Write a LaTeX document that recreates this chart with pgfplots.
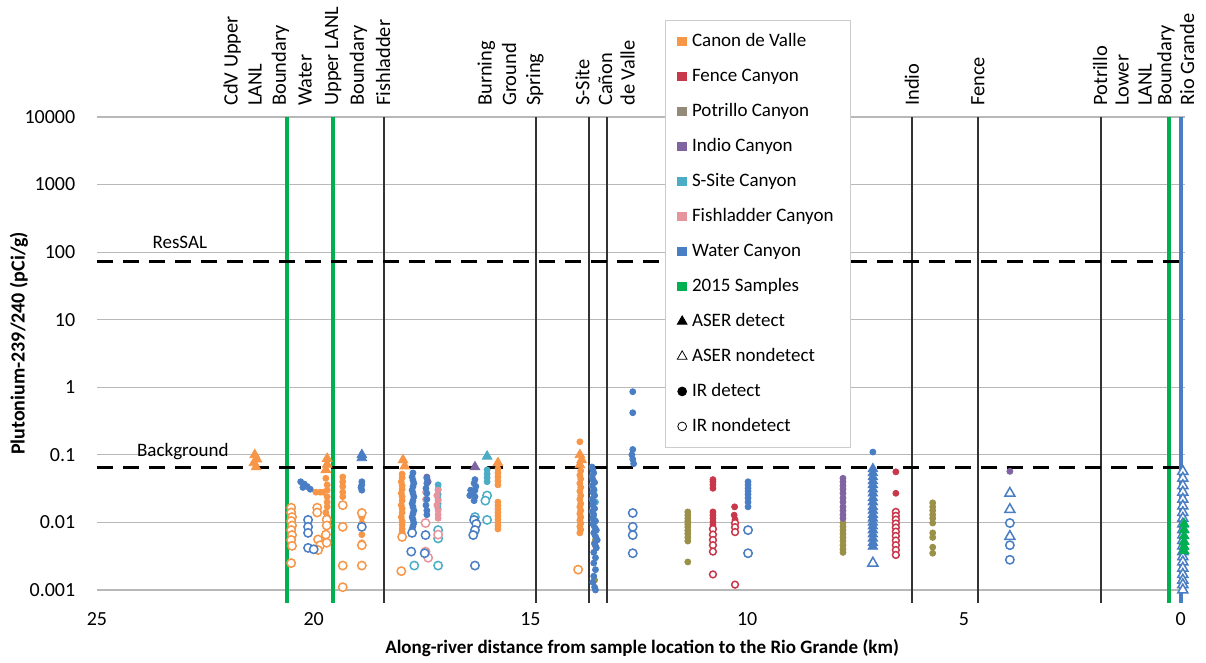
\documentclass[border=0pt]{standalone}
\usepackage{fontspec}
\setmainfont{Carlito}
\usepackage{pgfplots}
\pgfplotsset{compat=1.18}
\definecolor{cOr}{HTML}{F79646}
\definecolor{cRd}{HTML}{C8374A}
\definecolor{cOl}{HTML}{9A9048}
\definecolor{cOlL}{HTML}{948A7A}
\definecolor{cPu}{HTML}{8064A2}
\definecolor{cCy}{HTML}{4BACC6}
\definecolor{cPk}{HTML}{E8949E}
\definecolor{cBl}{HTML}{4A7EC4}
\definecolor{cGr}{HTML}{00B050}
\pgfplotsset{
 det/.style={only marks, mark=*, mark size=1.5pt, forget plot},
 nd/.style={only marks, mark=*, mark size=2.1pt, line width=0.75pt, forget plot, mark options={fill=white}},
 ad/.style={only marks, mark=triangle*, mark size=2.8pt, forget plot},
 an/.style={only marks, mark=triangle*, mark size=2.9pt, line width=0.75pt, forget plot, mark options={fill=white}},
 vblk/.style={black!80, line width=1pt, forget plot},
 vgr/.style={cGr, line width=2pt, forget plot},
}
\tikzset{toplab/.style={rotate=90, anchor=west, inner sep=0pt, font=\fontsize{10.2}{12}\selectfont}}
\begin{document}
\fontsize{9.5}{11.5}\selectfont
\begin{tikzpicture}
\path[use as bounding box] (-48.5pt,-36.5pt) rectangle (554.5pt,295pt);
\begin{axis}[
 scale only axis, width=544pt, height=236.5pt,
 ymode=log, x dir=reverse,
 xmin=-0.1, xmax=25, ymin=0.001, ymax=10000,
 clip=false,
 axis line style={draw=none},
 xtick={25,20,15,10,5,0}, xticklabels={25,20,15,10,5,0},
 ytick={0.001,0.01,0.1,1,10,100,1000,10000},
 yticklabels={0.001,0.01,0.1,1,10,100,1000,10000},
 xtick style={draw=none}, ytick style={draw=none},
 ticklabel style={font=\fontsize{10}{12}\selectfont},
 yticklabel style={xshift=-7.5pt},
 xticklabel style={yshift=-8pt},
 ymajorgrids, major grid style={black!28, line width=0.6pt},
 xlabel={\bfseries Along-river distance from sample location to the Rio Grande (km)},
 ylabel={\bfseries Plutonium-239/240 (pCi/g)},
 xlabel style={at={(axis description cs:0.501,-0.1226)}, anchor=center},
 ylabel style={at={(axis description cs:-0.0717,0.521)}, anchor=center, font=\fontsize{10}{12}\selectfont},
 legend cell align=left,
 legend style={at={(0.522,1.205)}, anchor=north west, draw=black!20, fill=white,
   inner xsep=6pt, inner ysep=6pt, row sep=8.5pt,
   nodes={inner xsep=2.5pt, inner ysep=0pt, text height=7pt, text depth=2pt}},
 legend image code/.code={\draw[#1] plot coordinates {(0pt,0pt)};},
]
% vertical reference lines
\addplot[vgr] coordinates {(20.61,0.00064) (20.61,10000)};
\addplot[vgr] coordinates {(19.55,0.00064) (19.55,10000)};
\addplot[vblk] coordinates {(18.39,0.00064) (18.39,10000)};
\addplot[vblk] coordinates {(14.88,0.00064) (14.88,10000)};
\addplot[vblk] coordinates {(13.66,0.00064) (13.66,10000)};
\addplot[vblk] coordinates {(13.24,0.00064) (13.24,10000)};
\addplot[vblk] coordinates {(6.20,0.00064) (6.20,10000)};
\addplot[vblk] coordinates {(4.68,0.00064) (4.68,10000)};
\addplot[vblk] coordinates {(1.84,0.00064) (1.84,10000)};
\addplot[vgr] coordinates {(0.27,0.00064) (0.27,10000)};
\addplot[cBl, line width=2pt, forget plot] coordinates {(0.0,0.00064) (0.0,10000)};
% dashed levels
\addplot[black, line width=1.5pt, dash pattern=on 8pt off 5pt, forget plot] coordinates {(25,72) (0,72)};
\addplot[black, line width=1.5pt, dash pattern=on 8pt off 5pt, forget plot] coordinates {(25,0.066) (0,0.066)};
% ---- Canon de Valle (orange)
\addplot[ad, color=cOr] coordinates {(21.36,0.100) (21.31,0.086) (21.38,0.076) (21.33,0.066) (19.69,0.088) (19.69,0.072) (19.72,0.060) (17.94,0.084) (17.90,0.068) (15.75,0.076) (13.86,0.100) (13.82,0.084) (13.86,0.071)};
\addplot[det, color=cOr] coordinates {(19.95,0.028) (19.85,0.028) (19.78,0.028) (19.72,0.045) (19.69,0.036) (19.69,0.030) (19.69,0.024) (19.69,0.020) (19.69,0.017) (19.72,0.014) (19.69,0.012)
 (19.33,0.047) (19.33,0.040) (19.33,0.034) (19.33,0.028) (19.33,0.024)
 (18.89,0.012) (18.89,0.0098) (18.89,0.0066) (18.89,0.0050)
 (17.96,0.052) (17.96,0.046) (17.98,0.040) (17.96,0.035) (17.96,0.031) (17.98,0.027) (17.96,0.024) (17.96,0.021) (17.98,0.018) (17.96,0.016) (17.96,0.014) (17.98,0.012) (17.96,0.0105) (17.96,0.0092) (17.96,0.0080) (17.96,0.0072)
 (15.75,0.062) (15.75,0.054) (15.75,0.047) (15.75,0.041) (15.75,0.036) (15.75,0.020) (15.75,0.0178) (15.75,0.0158) (15.75,0.0140) (15.75,0.0125) (15.75,0.0112) (15.75,0.0100) (15.75,0.0090) (15.75,0.0080)
 (13.86,0.156) (13.84,0.058) (13.86,0.050) (13.84,0.044) (13.86,0.038) (13.84,0.033) (13.86,0.029) (13.84,0.025) (13.86,0.022) (13.84,0.019) (13.86,0.017) (13.84,0.015) (13.86,0.0135) (13.84,0.012) (13.86,0.0108) (13.84,0.0097) (13.86,0.0087) (13.84,0.0078) (13.86,0.0070)};
\addplot[nd, color=cOr] coordinates {(20.52,0.0165) (20.52,0.0140) (20.50,0.0120) (20.52,0.0105) (20.50,0.0090) (20.52,0.0077) (20.50,0.0065) (20.52,0.0055) (20.50,0.0045) (20.52,0.0025)
 (19.92,0.0165) (19.92,0.0140) (19.90,0.0056) (19.85,0.0046) (19.90,0.0039)
 (19.70,0.0110) (19.70,0.0090) (19.72,0.0066) (19.70,0.0050)
 (19.33,0.0180) (19.33,0.0086) (19.33,0.0023) (19.33,0.0011)
 (18.89,0.0138) (18.89,0.0046) (18.89,0.0023)
 (17.96,0.0061) (17.98,0.0019) (13.90,0.0020)};
% ---- Fence (red)
\addplot[det, color=cRd] coordinates {(10.79,0.043) (10.79,0.040) (10.79,0.036) (10.79,0.032) (10.79,0.0143) (10.79,0.0128) (10.79,0.0115) (10.79,0.0102) (10.79,0.0092) (10.29,0.017) (10.30,0.0128) (10.28,0.0110) (6.57,0.056) (6.57,0.027)};
\addplot[nd, color=cRd, mark size=1.7pt] coordinates {(10.79,0.0080) (10.79,0.0066) (10.79,0.0055) (10.79,0.0046) (10.79,0.0037) (10.79,0.0017) (10.28,0.0098) (10.28,0.0085) (10.28,0.0072) (10.28,0.0012)
 (6.57,0.0143) (6.57,0.0125) (6.57,0.0110) (6.57,0.0096) (6.57,0.0084) (6.57,0.0073) (6.57,0.0063) (6.57,0.0054) (6.57,0.0046) (6.57,0.0039) (6.57,0.0033)};
% ---- Potrillo (olive)
\addplot[det, color=cOl] coordinates {(13.50,0.0055) (13.52,0.0050) (13.50,0.0045) (13.52,0.0014)
 (11.37,0.0143) (11.37,0.0128) (11.37,0.0115) (11.37,0.0104) (11.37,0.0094) (11.37,0.0085) (11.37,0.0076) (11.37,0.0068) (11.37,0.0060) (11.37,0.0053) (11.37,0.0026)
 (7.79,0.0098) (7.79,0.0087) (7.79,0.0077) (7.79,0.0068) (7.79,0.0060) (7.79,0.0053) (7.79,0.0046) (7.79,0.0040) (7.79,0.0036)
 (5.72,0.0195) (5.72,0.0170) (5.72,0.0150) (5.72,0.0130) (5.72,0.0115) (5.72,0.0098) (5.72,0.0070) (5.72,0.0060) (5.72,0.0043) (5.72,0.0035)};
% ---- Indio (purple)
\addplot[det, color=cPu] coordinates {(7.79,0.045) (7.79,0.040) (7.79,0.035) (7.79,0.031) (7.79,0.027) (7.79,0.023) (7.79,0.020) (7.79,0.017) (7.79,0.015) (7.79,0.013) (7.79,0.0115) (3.94,0.057) (17.39,0.047) (17.36,0.040)};
\addplot[ad, color=cPu] coordinates {(16.28,0.066)};
% ---- S-Site (cyan)
\addplot[det, color=cCy] coordinates {(17.13,0.036) (17.13,0.031) (17.13,0.026) (17.13,0.022) (17.13,0.019) (17.13,0.016) (16.00,0.060) (16.00,0.052) (16.00,0.046) (16.00,0.040) (13.53,0.030) (13.50,0.020) (13.55,0.012)};
\addplot[ad, color=cCy] coordinates {(16.00,0.095)};
\addplot[nd, color=cCy] coordinates {(17.68,0.0023) (17.13,0.0077) (17.13,0.0058) (17.13,0.0023) (16.00,0.025) (16.04,0.021) (16.00,0.0109) (16.28,0.0120)};
% ---- Fishladder (pink)
\addplot[det, color=cPk] coordinates {(17.13,0.030) (17.16,0.025) (17.13,0.021) (17.16,0.018) (17.13,0.015) (17.13,0.013) (17.13,0.0115) (17.42,0.028) (17.42,0.022)};
\addplot[nd, color=cPk] coordinates {(17.42,0.0098) (17.42,0.0037) (17.36,0.0030) (17.13,0.0066)};
% ---- Water (blue)
\addplot[det, color=cBl] coordinates {(20.30,0.040) (20.22,0.037) (20.15,0.034) (20.08,0.031) (20.25,0.033)
 (18.89,0.040) (18.89,0.036) (18.91,0.033) (18.89,0.030)
 (17.71,0.054) (17.73,0.047) (17.71,0.042) (17.69,0.038) (17.71,0.034) (17.73,0.030) (17.71,0.027) (17.69,0.024) (17.71,0.021) (17.73,0.019) (17.71,0.017) (17.69,0.015) (17.71,0.0135) (17.73,0.012) (17.71,0.011) (17.69,0.0098) (17.71,0.0088) (17.73,0.0080)
 (17.39,0.045) (17.39,0.038) (17.41,0.032) (17.39,0.027) (17.39,0.022) (17.41,0.018) (17.39,0.015) (17.39,0.013)
 (16.28,0.043) (16.30,0.038) (16.26,0.034) (16.28,0.030) (16.32,0.027) (16.28,0.024) (16.30,0.021) (16.40,0.025) (16.38,0.030)
 (13.58,0.066) (13.56,0.060) (13.54,0.054) (13.58,0.048) (13.56,0.043) (13.52,0.039) (13.58,0.035) (13.54,0.031) (13.56,0.028) (13.52,0.025) (13.58,0.022) (13.54,0.020) (13.56,0.018) (13.52,0.016) (13.58,0.0145) (13.54,0.013) (13.56,0.0115) (13.50,0.0105) (13.56,0.0095) (13.52,0.0085) (13.48,0.0077) (13.54,0.0070) (13.50,0.0062) (13.46,0.0055) (13.52,0.0048) (13.48,0.0042) (13.54,0.0036) (13.50,0.0030) (13.54,0.0025) (13.50,0.0020) (13.54,0.0016) (13.56,0.0013) (13.52,0.0011) (13.50,0.0010)
 (12.64,0.86) (12.64,0.42) (12.64,0.120) (12.66,0.100) (12.64,0.086) (12.62,0.074)
 (9.98,0.040) (9.98,0.036) (9.98,0.032) (9.98,0.029) (9.98,0.026) (9.98,0.023) (9.98,0.020) (9.98,0.017)
 (7.10,0.11) (-0.05,0.025) (-0.05,0.012) (-0.05,0.008)};
\addplot[ad, color=cBl] coordinates {(18.89,0.100) (18.89,0.090)
 (7.10,0.062) (7.10,0.054) (7.10,0.047) (7.10,0.041) (7.10,0.036) (7.10,0.031) (7.10,0.027) (7.10,0.023) (7.10,0.020) (7.10,0.017) (7.10,0.015) (7.10,0.013) (7.10,0.0115) (7.10,0.0100) (7.10,0.0088) (7.10,0.0077) (7.10,0.0067) (7.10,0.0058) (7.10,0.0050) (7.10,0.0044)};
\addplot[an, color=cBl] coordinates {(7.10,0.0025) (3.94,0.027) (3.94,0.0155) (3.94,0.0062)
 (-0.05,0.057) (-0.05,0.045) (-0.05,0.035) (-0.05,0.028) (-0.05,0.022) (-0.05,0.0175) (-0.05,0.014) (-0.05,0.0115) (-0.05,0.0095) (-0.05,0.0078) (-0.05,0.0065) (-0.05,0.0054) (-0.05,0.0045) (-0.05,0.0037) (-0.05,0.0031) (-0.05,0.0026) (-0.05,0.0021) (-0.05,0.0017) (-0.05,0.0014) (-0.05,0.0012) (-0.05,0.0010)};
\addplot[nd, color=cBl] coordinates {(20.13,0.0109) (20.13,0.0086) (20.13,0.0070) (20.13,0.0042) (20.00,0.0040) (18.89,0.0086) (17.73,0.0070) (17.75,0.0037) (17.42,0.0065) (17.44,0.0035) (16.30,0.0109) (16.25,0.0095) (16.28,0.0077) (16.32,0.0065) (16.28,0.0023) (12.64,0.0138) (12.64,0.0086) (12.64,0.0065) (12.64,0.0035) (9.98,0.0077) (9.98,0.0035) (3.94,0.0098) (3.94,0.0046) (3.94,0.0028)};
% ---- 2015 samples (green)
\addplot[ad, color=cGr] coordinates {(-0.08,0.0095) (-0.08,0.0078) (-0.08,0.0063) (-0.08,0.0052) (-0.08,0.0044) (-0.08,0.0038)};
% ---- legend entries
\addlegendimage{only marks, mark=square*, mark size=2.2pt, color=cOr}\addlegendentry{Canon de Valle}
\addlegendimage{only marks, mark=square*, mark size=2.2pt, color=cRd}\addlegendentry{Fence Canyon}
\addlegendimage{only marks, mark=square*, mark size=2.2pt, color=cOlL}\addlegendentry{Potrillo Canyon}
\addlegendimage{only marks, mark=square*, mark size=2.2pt, color=cPu}\addlegendentry{Indio Canyon}
\addlegendimage{only marks, mark=square*, mark size=2.2pt, color=cCy}\addlegendentry{S-Site Canyon}
\addlegendimage{only marks, mark=square*, mark size=2.2pt, color=cPk}\addlegendentry{Fishladder Canyon}
\addlegendimage{only marks, mark=square*, mark size=2.2pt, color=cBl}\addlegendentry{Water Canyon}
\addlegendimage{only marks, mark=square*, mark size=2.2pt, color=cGr}\addlegendentry{2015 Samples}
\addlegendimage{only marks, mark=triangle*, mark size=2.8pt, color=black}\addlegendentry{ASER detect}
\addlegendimage{only marks, mark=triangle, mark size=2.8pt, color=black}\addlegendentry{ASER nondetect}
\addlegendimage{only marks, mark=*, mark size=2.2pt, color=black}\addlegendentry{IR detect}
\addlegendimage{only marks, mark=o, mark size=2.2pt, color=black}\addlegendentry{IR nondetect}
% ---- text labels
\node[anchor=center] at (axis cs:23.09,138) {ResSAL};
\node[anchor=center] at (axis cs:23.02,0.111) {Background};
\node[toplab] at (axis cs:21.88,14500) {CdV Upper};
\node[toplab] at (axis cs:21.35,14500) {LANL};
\node[toplab] at (axis cs:20.77,14500) {Boundary};
\node[toplab] at (axis cs:20.20,14500) {Water};
\node[toplab] at (axis cs:19.55,14500) {Upper LANL};
\node[toplab] at (axis cs:18.97,14500) {Boundary};
\node[toplab] at (axis cs:18.40,14500) {Fishladder};
\node[toplab] at (axis cs:16.02,14500) {Burning};
\node[toplab] at (axis cs:15.49,14500) {Ground};
\node[toplab] at (axis cs:14.90,14500) {Spring};
\node[toplab] at (axis cs:13.80,14500) {S-Site};
\node[toplab] at (axis cs:13.27,14500) {Cañon};
\node[toplab] at (axis cs:12.76,14500) {de Valle};
\node[toplab] at (axis cs:6.20,14500) {Indio};
\node[toplab] at (axis cs:4.68,14500) {Fence};
\node[toplab] at (axis cs:1.86,14500) {Potrillo};
\node[toplab] at (axis cs:1.35,14500) {Lower};
\node[toplab] at (axis cs:0.82,14500) {LANL};
\node[toplab] at (axis cs:0.34,14500) {Boundary};
\node[toplab] at (axis cs:-0.15,14500) {Rio Grande};
\end{axis}
\end{tikzpicture}
\end{document}
